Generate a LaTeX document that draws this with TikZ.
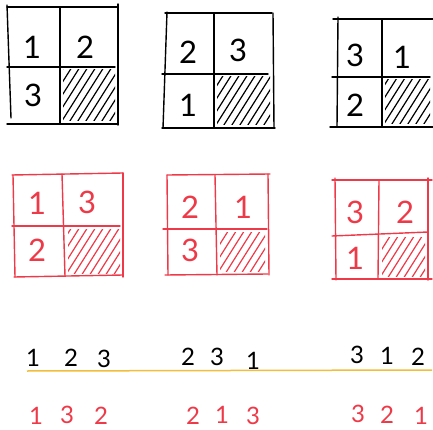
\documentclass[tikz,border=0pt]{standalone}
\usepackage{fontspec}
\setmainfont{Lato}
\definecolor{redpen}{RGB}{238,58,72}
\definecolor{goldpen}{RGB}{240,190,60}

% hatched cell: [colour]{x1}{y1}{x2}{y2}
\newcommand{\hatchcell}[5][black]{%
	\begin{scope}[#1]
		\clip (#2+3,#3+3) rectangle (#4-3,#5-3);
		\foreach \s in {-40,-32,...,56}
			\draw[hatch] ({#2+\s},#5) -- ++(36,-57);
	\end{scope}}

\begin{document}
\begin{tikzpicture}[
			x=1pt, y=-1pt,
			pen/.style={line width=1.4pt, line cap=round},
			hatch/.style={line width=1.2pt, line cap=round},
			dig/.style={font=\fontsize{31}{31}\selectfont, inner sep=0pt},
			row/.style={font=\fontsize{24}{24}\selectfont, inner sep=0pt}
		]
		\useasboundingbox (0,0) rectangle (433,430);

		% black grids
		\draw[pen] (7,7) -- (117,7);
		\draw[pen] (7,5) -- (11,118);
		\draw[pen] (7,124) -- (117,124);
		\draw[pen] (118,4) -- (118,125);
		\draw[pen] (60,8) -- (60,123);
		\draw[pen] (7,67) -- (115,67);
		\hatchcell{60}{67}{118}{124}
		\node[dig] (a1) at (32,47) {1};
		\node[dig] (a2) at (85,47) {2};
		\node[dig] (a3) at (33,95) {3};

		\draw[pen] (165,13) -- (272,13);
		\draw[pen] (167,12) -- (163,128);
		\draw[pen] (162,128) -- (275,128);
		\draw[pen] (273,13) -- (274,128);
		\draw[pen] (214,13) -- (214,128);
		\draw[pen] (162,74) -- (268,74);
		\hatchcell{214}{74}{273}{128}
		\node[dig] (b2) at (188,52) {2};
		\node[dig] (b3) at (238,50) {3};
		\node[dig] (b1) at (188,105) {1};

		\draw[pen] (333,19) -- (433,19);
		\draw[pen] (338,17) -- (337,127);
		\draw[pen] (382,19) -- (382,127);
		\draw[pen] (332,77) -- (430,77);
		\draw[pen] (330,127) -- (433,127);
		\hatchcell{382}{77}{433}{127}
		\node[dig] (c3) at (355,55) {3};
		\node[dig] (c1) at (402,57) {1};
		\node[dig] (c2) at (355,105) {2};

		% red grids
		\begin{scope}[redpen]
			\draw[pen] (12,175) -- (123,173);
			\draw[pen] (13,175) -- (15,277);
			\draw[pen] (14,277) -- (123,275);
			\draw[pen] (123,173) -- (123,277);
			\draw[pen] (62,174) -- (65,276);
			\draw[pen] (12,226) -- (120,226);
			\hatchcell[redpen]{65}{226}{123}{276}
			\node[dig] (d1) at (37,203) {1};
			\node[dig] (d3) at (87,202) {3};
			\node[dig] (d2) at (37,250) {2};

			\draw[pen] (167,175) -- (270,174);
			\draw[pen] (167,175) -- (168,275);
			\draw[pen] (165,275) -- (268,274);
			\draw[pen] (268,174) -- (269,275);
			\draw[pen] (215,175) -- (217,275);
			\draw[pen] (163,229) -- (267,229);
			\hatchcell[redpen]{217}{229}{268}{274}
			\node[dig] (e2) at (190,207) {2};
			\node[dig] (e1) at (243,207) {1};
			\node[dig] (e3) at (190,250) {3};

			\draw[pen] (332,180) -- (432,180);
			\draw[pen] (335,178) -- (336,280);
			\draw[pen] (332,279) -- (432,279);
			\draw[pen] (428,178) -- (428,280);
			\draw[pen] (379,180) -- (378,279);
			\draw[pen] (332,236) -- (428,232);
			\hatchcell[redpen]{379}{234}{428}{279}
			\node[dig] (f3) at (355,212) {3};
			\node[dig] (f2) at (405,212) {2};
			\node[dig] (f1) at (355,258) {1};
		\end{scope}

		% sequences
		\node[row] (s1) at (33,358) {1};
		\node[row] (s2) at (71,358) {2};
		\node[row] (s3) at (104,359) {3};
		\node[row] (t2) at (188,357) {2};
		\node[row] (t3) at (217,357) {3};
		\node[row] (t1) at (253,361) {1};
		\node[row] (u3) at (357,355) {3};
		\node[row] (u1) at (387,356) {1};
		\node[row] (u2) at (418,357) {2};
		\draw[goldpen, line width=1.5pt] (27,371) -- (432,370);

		\begin{scope}[redpen]
			\node[row] (r1) at (36,416) {1};
			\node[row] (r3) at (67,415) {3};
			\node[row] (r2) at (101,416) {2};
			\node[row] (q2) at (193,416) {2};
			\node[row] (q1) at (222,415) {1};
			\node[row] (q3) at (253,416) {3};
			\node[row] (p3) at (358,414) {3};
			\node[row] (p2) at (387,415) {2};
			\node[row] (p1) at (421,416) {1};
		\end{scope}
	\end{tikzpicture}
\end{document}
